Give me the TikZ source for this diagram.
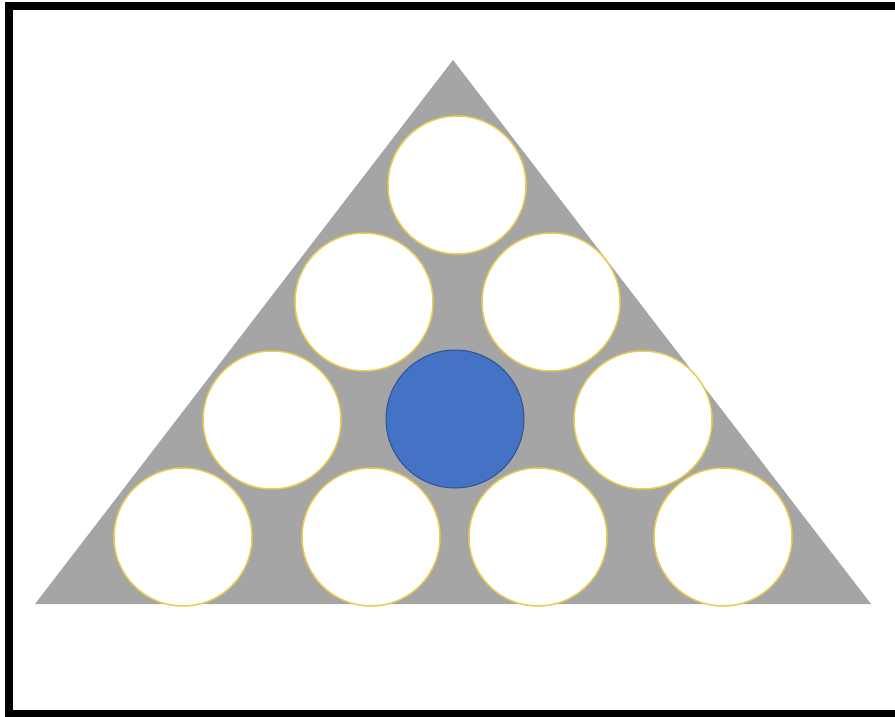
\documentclass[tikz,border=0pt]{standalone}
\usepackage{tikz}
\usepackage{xcolor}
\definecolor{wedgegray}{RGB}{165,165,165}
\definecolor{ballblue}{RGB}{68,114,196}
\definecolor{ballrim}{RGB}{47,82,143}
\definecolor{rimgold}{RGB}{232,204,80}

\begin{document}
\begin{tikzpicture}[x=1pt,y=-1pt,
  ball/.style={circle, draw=rimgold, fill=white, line width=1.5pt, minimum size=138pt, inner sep=0pt, outer sep=0pt},
  blueball/.style={ball, draw=ballrim, fill=ballblue, line width=1pt}]
\useasboundingbox (0,0) rectangle (895,717);
% frame
\draw [line width=8pt, line join=miter] (895,6)-- (9,6)-- (9,714)-- (895,714);
% triangle
\fill [wedgegray] (35,604)-- (453,60)-- (871,604)-- cycle;
% balls
\node[ball] (b1) at (457,185) {};
\node[ball] (b2) at (364,302) {};
\node[ball] (b3) at (551,302) {};
\node[ball] (b4) at (272,420) {};
\node[blueball] (b5) at (455,419) {};
\node[ball] (b6) at (643,420) {};
\node[ball] (b7) at (183,537) {};
\node[ball] (b8) at (371,537) {};
\node[ball] (b9) at (538,537) {};
\node[ball] (b10) at (723,537) {};
\end{tikzpicture}
\end{document}
